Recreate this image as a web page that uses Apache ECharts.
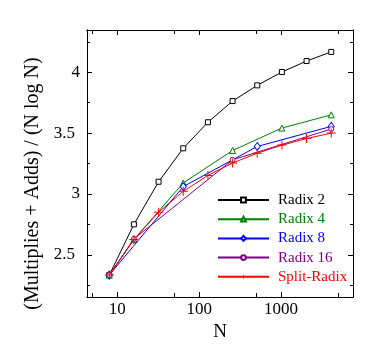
<!DOCTYPE html>
<html>
<head>
<meta charset="utf-8">
<script src="https://cdn.jsdelivr.net/npm/echarts@6/dist/echarts.min.js"></script>
<style>html,body{margin:0;padding:0;background:#fff}#c{width:380px;height:350px}</style>
</head>
<body>
<div id="c"></div>
<script>
// Data
var seriesNames = ['Radix 2', 'Radix 4', 'Radix 8', 'Radix 16', 'Split-Radix'];
var radix2N = [8, 16, 32, 64, 128, 256, 512, 1024, 2048, 4096];
var radix2V = [2.333, 2.75, 3.10, 3.375, 3.589, 3.763, 3.892, 4.002, 4.092, 4.167];
var radix4N = [8, 16, 64, 256, 1024, 4096];
var radix4V = [2.333, 2.625, 3.09, 3.357, 3.541, 3.650];
var radix8N = [8, 64, 512, 4096];
var radix8V = [2.333, 3.06, 3.39, 3.555];
var radix16N = [8, 16, 256, 4096];
var radix16V = [2.333, 2.63, 3.28, 3.533];
var splitN = [8, 16, 32, 64, 128, 256, 512, 1024, 2048, 4096];
var splitV = [2.333, 2.625, 2.85, 3.021, 3.152, 3.254, 3.335, 3.401, 3.455, 3.500];
var xMajorTicks = [10, 100, 1000];
var xMinorTicks = [5, 50, 500, 5000];
var yMajorTicks = [2.5, 3, 3.5, 4];
var yMinorTicks = [2.25, 2.75, 3.25, 3.75, 4.25];

function pairs(xs, ys) { return xs.map(function (x, i) { return [x, ys[i]]; }); }

var font = 'Liberation Serif';
var X_MIN = 4.28, X_MAX = 7550, Y_MIN = 2.153, Y_MAX = 4.347;

function xAxisDef(pos, ticks, len, labels) {
  return {
    type: 'log', logBase: 10, min: X_MIN, max: X_MAX, position: pos,
    axisLine: { show: true, onZero: false, lineStyle: { color: '#000', width: 1 } },
    axisTick: { show: true, inside: true, length: len, customValues: ticks, lineStyle: { color: '#000' } },
    axisLabel: labels ? { show: true, customValues: ticks, fontFamily: font, fontSize: 17, color: '#000', margin: 4,
      formatter: function (v) { return String(Math.round(v)); } } : { show: false },
    splitLine: { show: false }, minorTick: { show: false }
  };
}
function yAxisDef(pos, ticks, len, labels) {
  return {
    type: 'value', min: Y_MIN, max: Y_MAX, position: pos,
    axisLine: { show: true, onZero: false, lineStyle: { color: '#000', width: 1 } },
    axisTick: { show: true, inside: true, length: len, customValues: ticks, lineStyle: { color: '#000' } },
    axisLabel: labels ? {
      show: true, customValues: ticks, fontFamily: font, fontSize: 17, color: '#000', margin: 7,
      formatter: function (v) { return (v % 1 !== 0) ? '{d|' + v + '}' : String(v); },
      rich: { d: { fontFamily: font, fontSize: 17, color: '#000', padding: [0, 5, 0, 0] } }
    } : { show: false },
    splitLine: { show: false }
  };
}

var xAxes = [
  xAxisDef('bottom', xMajorTicks, 5, true),
  xAxisDef('top', xMajorTicks, 5, false),
  xAxisDef('bottom', xMinorTicks, 4, false),
  xAxisDef('top', xMinorTicks, 4, false)
];
xAxes[0].name = 'N';
xAxes[0].nameLocation = 'middle';
xAxes[0].nameGap = 21;
xAxes[0].nameTextStyle = { fontFamily: font, fontSize: 19, color: '#000' };

var yAxes = [
  yAxisDef('left', yMajorTicks, 5, true),
  yAxisDef('right', yMajorTicks, 5, false),
  yAxisDef('left', yMinorTicks, 3, false),
  yAxisDef('right', yMinorTicks, 3, false)
];
yAxes[0].name = '(Multiplies + Adds) / (N log N)';
yAxes[0].nameLocation = 'middle';
yAxes[0].nameGap = 39;
yAxes[0].nameRotate = 90;
yAxes[0].nameTextStyle = { fontFamily: font, fontSize: 20, color: '#000', padding: [0, 40, 0, 0] };

var colors = ['#000000', '#008000', '#0000ff', '#800080', '#ff0000'];
var plusPath = 'path://M4,0h1v4h4v1h-4v4h-1v-4h-4v-1h4z';
var symbols = ['rect', 'triangle', 'diamond', 'circle', plusPath];
var sizes = [5, 6, [6, 8], 5, 9];
var datas = [pairs(radix2N, radix2V), pairs(radix4N, radix4V), pairs(radix8N, radix8V),
             pairs(radix16N, radix16V), pairs(splitN, splitV)];
var order = [3, 0, 1, 2, 4];

var series = order.map(function (i) {
  var hollow = i !== 4;
  return {
    name: seriesNames[i], type: 'line', data: datas[i], z: 2 + i,
    xAxisIndex: 0, yAxisIndex: 0,
    symbol: symbols[i], symbolSize: sizes[i], showAllSymbol: true,
    lineStyle: { color: colors[i], width: 1 },
    itemStyle: hollow ? { color: '#fff', borderColor: colors[i], borderWidth: 1 }
                      : { color: colors[i], borderWidth: 0 },
    emphasis: { disabled: true }, animation: false
  };
});

var chart = echarts.init(document.getElementById('c'), null, { renderer: 'canvas' });
chart.setOption({
  animation: false,
  grid: { left: 87, top: 30, width: 266, height: 267, containLabel: false },
  xAxis: xAxes,
  yAxis: yAxes,
  legend: {
    orient: 'vertical', left: 217, top: 192.5, padding: 0,
    itemWidth: 51, itemHeight: 6, itemGap: 4.2,
    selectedMode: false,
    data: seriesNames.map(function (n, i) {
      return { name: n, textStyle: { color: colors[i], fontFamily: font, fontSize: 15, lineHeight: 15, padding: [0, 0, 0, 4] } };
    })
  },
  series: series
});
</script>
</body>
</html>
